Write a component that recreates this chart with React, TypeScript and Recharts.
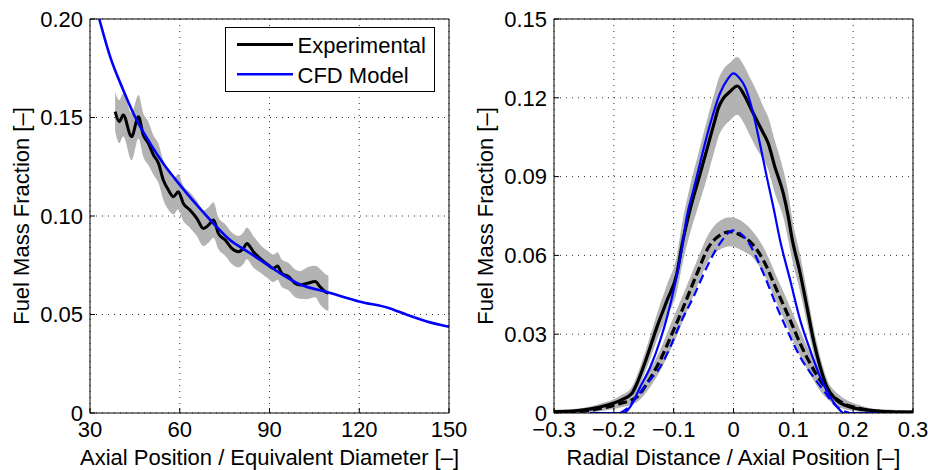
import {
  ComposedChart, Line, Area, XAxis, YAxis, CartesianGrid, Legend, Label,
} from "recharts";

const FONT = "'Liberation Sans', Arial, Helvetica, sans-serif";
const BAND = "#b3b3b3";
const BLUE = "#0000ff";

// Left panel: centreline fuel mass fraction vs axial position
const axialExpX = [38.4, 39.8, 41.1, 43.9, 46.2, 47.8, 49.5, 51.2, 52.9, 54.5, 56.2, 57.9, 59.5, 61.2, 63.4, 65.7, 67.9, 69.6, 71.3, 72.9, 75.2, 77.4, 79.6, 81.3, 82.4, 84.6, 87.4, 89.6, 91.3, 92.7, 94.1, 96.4, 98.6, 100.3, 102.5, 105.3, 106.9, 108.6, 109.7];
const axialExpY = [0.153, 0.1479, 0.1513, 0.1403, 0.1504, 0.1411, 0.1369, 0.131, 0.1267, 0.1183, 0.1132, 0.1098, 0.1123, 0.1064, 0.103, 0.0988, 0.0937, 0.0954, 0.098, 0.0912, 0.0878, 0.0836, 0.0819, 0.0836, 0.0861, 0.0819, 0.0777, 0.0751, 0.0734, 0.0746, 0.0709, 0.0692, 0.0658, 0.065, 0.0658, 0.0667, 0.0641, 0.0616, 0.0608];
const axialExpErr = [0.01, 0.011, 0.011, 0.012, 0.011, 0.011, 0.011, 0.01, 0.01, 0.01, 0.01, 0.009, 0.009, 0.009, 0.009, 0.009, 0.009, 0.009, 0.009, 0.008, 0.008, 0.008, 0.008, 0.008, 0.008, 0.008, 0.007, 0.007, 0.007, 0.007, 0.007, 0.007, 0.007, 0.007, 0.008, 0.008, 0.009, 0.009, 0.009];
const axialCfdX = [33.1, 36.7, 41.1, 45.6, 50.1, 54.5, 60.1, 65.7, 71.2, 76.8, 82.4, 88, 93.6, 100.3, 109.2, 120.3, 130.3, 135.9, 142.6, 150];
const axialCfdY = [0.2, 0.181, 0.164, 0.1487, 0.1369, 0.1267, 0.1157, 0.1056, 0.0963, 0.0878, 0.0822, 0.0766, 0.0709, 0.0652, 0.0614, 0.0565, 0.0531, 0.0499, 0.0465, 0.0438];
const axialTicks = [30, 60, 90, 120, 150];
const axialFracTicks = [0, 0.05, 0.1, 0.15, 0.2];

// Right panel: radial profiles, solid = near station, dashed = far station
const nearExpX = [-0.3, -0.256, -0.223, -0.189, -0.17, -0.1615, -0.1447, -0.128, -0.111, -0.0946, -0.086, -0.0727, -0.0588, -0.0448, -0.031, -0.0254, -0.017, -0.006, 0.0064, 0.0164, 0.0276, 0.0388, 0.05, 0.058, 0.069, 0.0832, 0.0916, 0.0973, 0.1115, 0.1227, 0.1337, 0.1449, 0.1561, 0.1728, 0.195, 0.2285, 0.262, 0.3];
const nearExpY = [0.0004, 0.001, 0.0023, 0.0048, 0.0074, 0.0112, 0.0213, 0.0327, 0.0429, 0.0531, 0.064, 0.0773, 0.0887, 0.1001, 0.1115, 0.116, 0.1198, 0.1223, 0.1245, 0.1217, 0.1166, 0.1115, 0.1065, 0.1027, 0.0938, 0.0836, 0.0747, 0.0671, 0.0531, 0.0404, 0.0277, 0.0175, 0.0099, 0.0048, 0.0023, 0.001, 0.0004, 0.0003];
const nearExpErr = [0.0008, 0.0008, 0.0012, 0.0018, 0.0025, 0.003, 0.004, 0.005, 0.006, 0.007, 0.008, 0.009, 0.01, 0.011, 0.011, 0.011, 0.011, 0.011, 0.011, 0.011, 0.011, 0.011, 0.01, 0.01, 0.01, 0.009, 0.009, 0.008, 0.007, 0.006, 0.005, 0.004, 0.003, 0.002, 0.0012, 0.0008, 0.0008, 0.0008];
const nearCfdX = [-0.24, -0.184, -0.1727, -0.156, -0.139, -0.1225, -0.111, -0.0975, -0.0866, -0.078, -0.067, -0.056, -0.0448, -0.0337, -0.0226, -0.01, 0, 0.01, 0.0192, 0.033, 0.044, 0.0555, 0.0665, 0.0777, 0.0948, 0.1115, 0.1282, 0.1449, 0.1616, 0.1783, 0.184, 0.24];
const nearCfdY = [0, 0, 0.0023, 0.0099, 0.0175, 0.0277, 0.0365, 0.0493, 0.062, 0.0747, 0.0849, 0.095, 0.1052, 0.1141, 0.1217, 0.127, 0.1293, 0.1275, 0.1242, 0.114, 0.1027, 0.09, 0.0785, 0.0659, 0.0505, 0.0353, 0.0239, 0.0137, 0.0061, 0.001, 0, 0];
const farExpX = [-0.3, -0.256, -0.2228, -0.189, -0.1615, -0.1447, -0.1225, -0.1003, -0.0836, -0.061, -0.042, -0.0226, -0.0056, 0.0164, 0.0304, 0.0501, 0.0725, 0.0948, 0.1115, 0.1282, 0.1449, 0.1616, 0.1839, 0.2118, 0.245, 0.3];
const farExpY = [0.0003, 0.0006, 0.0017, 0.0036, 0.0061, 0.0112, 0.0201, 0.0315, 0.0404, 0.0531, 0.063, 0.0677, 0.069, 0.0671, 0.0646, 0.0581, 0.0467, 0.0353, 0.0264, 0.0188, 0.0124, 0.0074, 0.0036, 0.0017, 0.0005, 0.0002];
const farExpErr = [0.0008, 0.0008, 0.001, 0.0015, 0.002, 0.003, 0.004, 0.005, 0.005, 0.005, 0.005, 0.0055, 0.0055, 0.0055, 0.005, 0.005, 0.005, 0.005, 0.005, 0.004, 0.004, 0.003, 0.002, 0.0012, 0.0008, 0.0008];
const farCfdX = [-0.1893, -0.178, -0.1615, -0.1447, -0.1225, -0.1058, -0.0891, -0.0669, -0.0445, -0.0226, 0, 0.022, 0.0501, 0.0725, 0.0948, 0.1115, 0.1337, 0.1505, 0.1672, 0.1839, 0.195];
const farCfdY = [0, 0.0017, 0.0061, 0.0112, 0.0175, 0.0251, 0.034, 0.0442, 0.0556, 0.0646, 0.0695, 0.0659, 0.0531, 0.0404, 0.029, 0.0213, 0.0137, 0.0086, 0.0036, 0.0008, 0];
const radialTicks = [-0.3, -0.2, -0.1, 0, 0.1, 0.2, 0.3];
const radialFracTicks = [0, 0.03, 0.06, 0.09, 0.12, 0.15];

const legendItems = [
  { name: "Experimental", color: "#000", width: 3 },
  { name: "CFD Model", color: BLUE, width: 2.5 },
];

const toRows = (xs: number[], ys: number[], errs?: number[]) =>
  xs.map((x, i) => ({
    x,
    y: ys[i],
    band: errs ? [ys[i] - errs[i], ys[i] + errs[i]] : null,
  }));

const tick = { fill: "#000", fontSize: 22, fontFamily: FONT };
const axisLine = { stroke: "#000", strokeWidth: 1 };
const tickLine = { stroke: "#000", strokeWidth: 1 };

const fracFmt = (v: number) => (v === 0 ? "0" : v.toFixed(2));
const radialFmt = (v: number) => (Math.abs(v) < 1e-9 ? "0" : v.toFixed(1).replace("-", "\u2212"));

const xTitle = (text: string) => (props: any) => {
  const vb = props.viewBox;
  return (
    <text x={vb.x + vb.width / 2} y={vb.y + 52} textAnchor="middle" fontSize={22} fontFamily={FONT} fill="#000">
      {text}
    </text>
  );
};

const yTitle = (text: string) => (props: any) => {
  const vb = props.viewBox;
  const cx = vb.x + 29;
  const cy = vb.y + vb.height / 2;
  return (
    <text x={cx} y={cy} transform={`rotate(-90 ${cx} ${cy})`} textAnchor="middle" fontSize={22} fontFamily={FONT} fill="#000">
      {text}
    </text>
  );
};

const renderLegend = () => (
  <svg width={210} height={65} style={{ display: "block" }}>
    <rect x={0.5} y={0.5} width={209} height={64} fill="#fff" stroke="#000" strokeWidth={1} />
    {legendItems.map((it, i) => (
      <g key={it.name}>
        <line x1={12} x2={68} y1={17.5 + i * 29.7} y2={17.5 + i * 29.7} stroke={it.color} strokeWidth={it.width} />
        <text x={72.5} y={26 + i * 29.5} fontSize={22} fontFamily={FONT} fill="#000">{it.name}</text>
      </g>
    ))}
  </svg>
);

// four-sided matlab style box with inward ticks
function frame(xDomain: number[], xTicks: number[], xFmt: (v: number) => string,
  yDomain: number[], yTicks: number[], xLabel: string) {
  return [
    <CartesianGrid key="grid" stroke="#333" strokeDasharray="1 5" />,
    <XAxis key="xb" type="number" dataKey="x" domain={xDomain} ticks={xTicks} tickFormatter={xFmt}
      interval={0} allowDataOverflow height={57} tickSize={-5} tickMargin={13}
      axisLine={axisLine} tickLine={tickLine} tick={tick}>
      <Label content={xTitle(xLabel)} />
    </XAxis>,
    <XAxis key="xt" xAxisId="top" orientation="top" type="number" dataKey="x" domain={xDomain} ticks={xTicks}
      interval={0} allowDataOverflow height={1} tickSize={-5} tick={false}
      axisLine={axisLine} tickLine={tickLine} />,
    <YAxis key="yl" type="number" domain={yDomain} ticks={yTicks} tickFormatter={fracFmt}
      interval={0} allowDataOverflow width={90} tickSize={-5} tickMargin={12}
      axisLine={axisLine} tickLine={tickLine} tick={tick}>
      <Label content={yTitle("Fuel Mass Fraction [\u2013]")} />
    </YAxis>,
    <YAxis key="yr" yAxisId="right" orientation="right" type="number" domain={yDomain} ticks={yTicks}
      interval={0} allowDataOverflow width={1} tickSize={-5} tick={false}
      axisLine={axisLine} tickLine={tickLine} />,
  ];
}

export default function App() {
  return (
    <div style={{ position: "absolute", left: 0, top: 0, width: 928, height: 470, background: "#fff", fontFamily: FONT }}>
      <style>{".recharts-surface{overflow:visible}"}</style>

      <div style={{ position: "absolute", left: 0, top: 0 }}>
        <ComposedChart width={464} height={470} margin={{ top: 18, right: 14, bottom: 0, left: 0 }}>
          {frame([30, 150], axialTicks, (v) => String(v), [0, 0.2], axialFracTicks,
            "Axial Position / Equivalent Diameter [\u2013]")}
          <Area data={toRows(axialExpX, axialExpY, axialExpErr)} dataKey="band" type="monotoneX"
            fill={BAND} fillOpacity={1} stroke="none" isAnimationActive={false} activeDot={false} />
          <Line data={toRows(axialExpX, axialExpY)} dataKey="y" type="monotoneX" stroke="#000"
            strokeWidth={3} dot={false} activeDot={false} isAnimationActive={false} />
          <Line data={toRows(axialCfdX, axialCfdY)} dataKey="y" type="monotoneX" stroke={BLUE}
            strokeWidth={2.6} dot={false} activeDot={false} isAnimationActive={false} />
          <Legend layout="vertical" align="center" verticalAlign="middle" content={renderLegend}
            wrapperStyle={{ left: 225, top: 27, width: 210, height: 65 }} />
        </ComposedChart>
      </div>

      <div style={{ position: "absolute", left: 464, top: 0 }}>
        <ComposedChart width={464} height={470} margin={{ top: 18, right: 14, bottom: 0, left: 0 }}>
          {frame([-0.3, 0.3], radialTicks, radialFmt, [0, 0.15], radialFracTicks,
            "Radial Distance / Axial Position [\u2013]")}
          <Area data={toRows(nearExpX, nearExpY, nearExpErr)} dataKey="band" type="monotoneX"
            fill={BAND} fillOpacity={1} stroke="none" isAnimationActive={false} activeDot={false} />
          <Area data={toRows(farExpX, farExpY, farExpErr)} dataKey="band" type="monotoneX"
            fill={BAND} fillOpacity={1} stroke="none" isAnimationActive={false} activeDot={false} />
          <Line data={toRows(nearExpX, nearExpY)} dataKey="y" type="monotoneX" stroke="#000"
            strokeWidth={3.2} dot={false} activeDot={false} isAnimationActive={false} />
          <Line data={toRows(farExpX, farExpY)} dataKey="y" type="monotoneX" stroke="#000"
            strokeWidth={3.2} strokeDasharray="9 4" dot={false} activeDot={false} isAnimationActive={false} />
          <Line data={toRows(nearCfdX, nearCfdY)} dataKey="y" type="monotoneX" stroke={BLUE}
            strokeWidth={2.2} dot={false} activeDot={false} isAnimationActive={false} />
          <Line data={toRows(farCfdX, farCfdY)} dataKey="y" type="monotoneX" stroke={BLUE}
            strokeWidth={2.2} strokeDasharray="9 5" dot={false} activeDot={false} isAnimationActive={false} />
        </ComposedChart>
      </div>
    </div>
  );
}
